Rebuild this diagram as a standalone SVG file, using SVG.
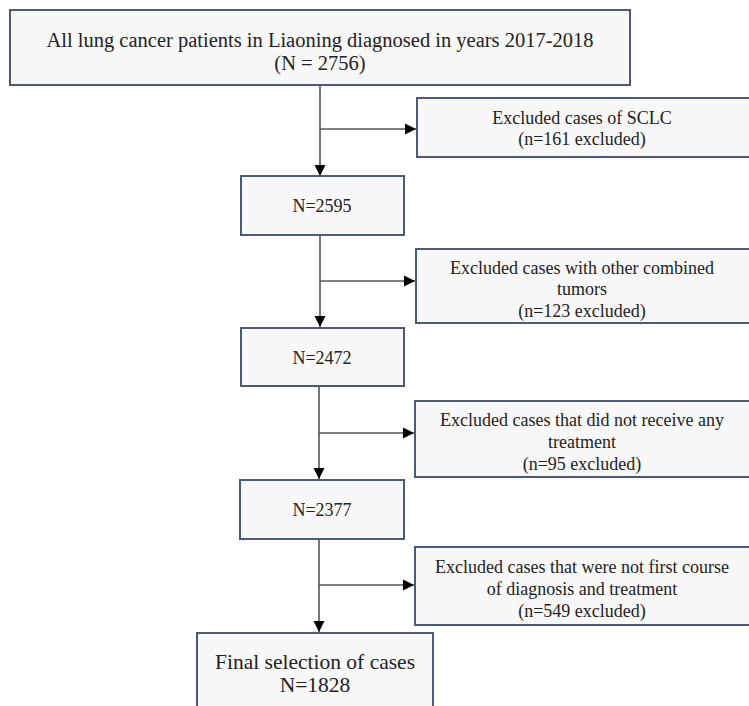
<svg xmlns="http://www.w3.org/2000/svg" width="749" height="706" viewBox="0 0 749 706">
<style>
.box{fill:#f8f8f8;stroke:#4b5a7c;stroke-width:2}
.t{font-family:"Liberation Serif","Times New Roman",serif;fill:#222;text-anchor:middle}
.s16{font-size:18px}
.s19{font-size:20.5px}
.s21{font-size:21.5px}
.c{stroke:#555;stroke-width:1.6;fill:none}
</style>
<defs>
<marker id="ah" markerWidth="12" markerHeight="12" refX="11" refY="6" orient="auto" markerUnits="userSpaceOnUse">
<path d="M0,0.5 L11,6 L0,11.5 z" fill="#000"/>
</marker>
</defs>
<rect width="749" height="706" fill="#fff"/>
<g id="connectors">
<line class="c" x1="320" y1="85" x2="320" y2="176" marker-end="url(#ah)"/>
<line class="c" x1="320" y1="129" x2="416" y2="129" marker-end="url(#ah)"/>
<line class="c" x1="320" y1="235" x2="320" y2="327" marker-end="url(#ah)"/>
<line class="c" x1="320" y1="281" x2="415" y2="281" marker-end="url(#ah)"/>
<line class="c" x1="319" y1="386" x2="319" y2="479" marker-end="url(#ah)"/>
<line class="c" x1="319" y1="433" x2="414" y2="433" marker-end="url(#ah)"/>
<line class="c" x1="319" y1="539" x2="319" y2="632" marker-end="url(#ah)"/>
<line class="c" x1="319" y1="585" x2="414" y2="585" marker-end="url(#ah)"/>
</g>
<g id="n_all">
<rect class="box" x="10" y="10" width="620" height="75"/>
<text class="t s19" x="320" y="47">All lung cancer patients in Liaoning diagnosed in years 2017-2018</text>
<text class="t s19" x="320" y="70">(N = 2756)</text>
</g>
<g id="ex_sclc">
<rect class="box" x="417" y="98" width="336" height="59"/>
<text class="t s16" x="582" y="124">Excluded cases of SCLC</text>
<text class="t s16" x="582" y="145">(n=161 excluded)</text>
</g>
<g id="n_2595">
<rect class="box" x="241" y="176" width="163" height="59"/>
<text class="t s16" x="322" y="212">N=2595</text>
</g>
<g id="ex_tumors">
<rect class="box" x="416" y="249" width="337" height="74"/>
<text class="t s16" x="582" y="274">Excluded cases with other combined</text>
<text class="t s16" x="582" y="295">tumors</text>
<text class="t s16" x="582" y="317">(n=123 excluded)</text>
</g>
<g id="n_2472">
<rect class="box" x="241" y="328" width="163" height="58"/>
<text class="t s16" x="322" y="364">N=2472</text>
</g>
<g id="ex_treatment">
<rect class="box" x="415" y="401" width="338" height="76"/>
<text class="t s16" x="582" y="426">Excluded cases that did not receive any</text>
<text class="t s16" x="582" y="448">treatment</text>
<text class="t s16" x="582" y="470">(n=95 excluded)</text>
</g>
<g id="n_2377">
<rect class="box" x="240" y="480" width="164" height="59"/>
<text class="t s16" x="322" y="516">N=2377</text>
</g>
<g id="ex_course">
<rect class="box" x="415" y="547" width="338" height="78"/>
<text class="t s16" x="582" y="573">Excluded cases that were not first course</text>
<text class="t s16" x="582" y="595">of diagnosis and treatment</text>
<text class="t s16" x="582" y="617">(n=549 excluded)</text>
</g>
<g id="n_final">
<rect class="box" x="197" y="633" width="236" height="80"/>
<text class="t s21" x="315" y="669">Final selection of cases</text>
<text class="t s21" x="315" y="692">N=1828</text>
</g>
</svg>
